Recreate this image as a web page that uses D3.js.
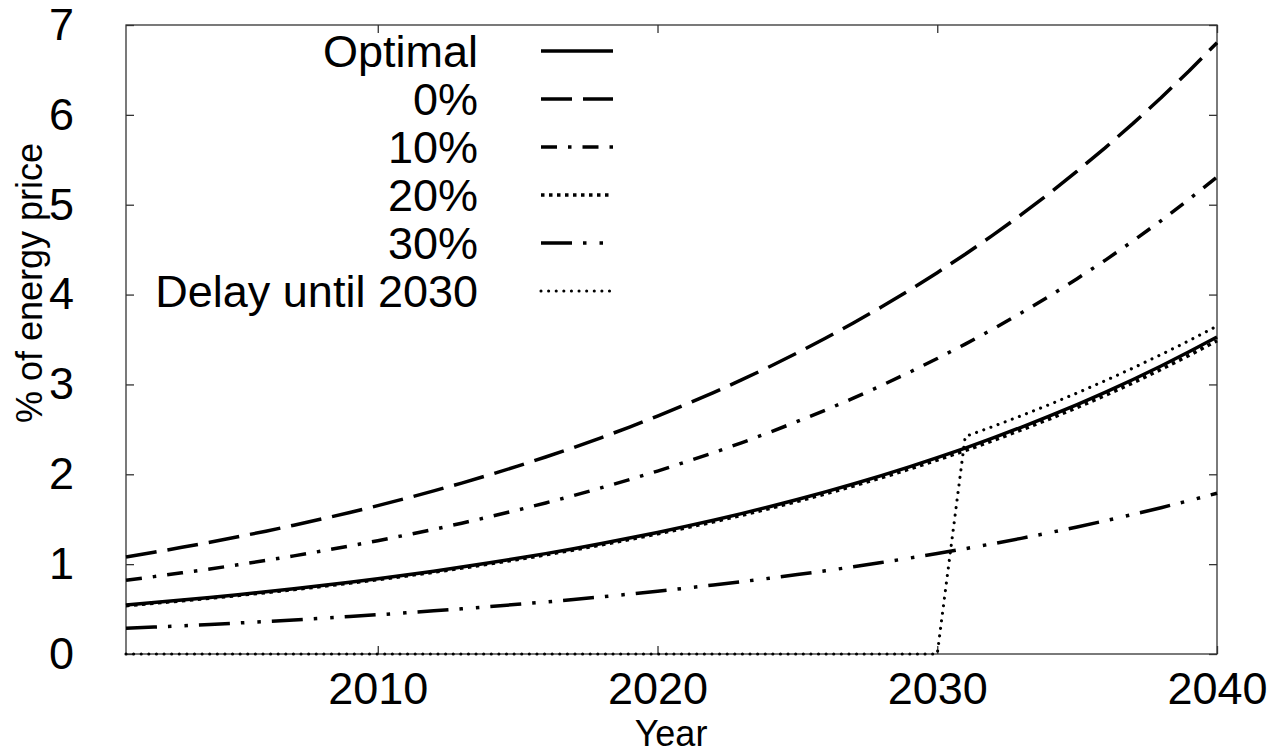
<!DOCTYPE html>
<html>
<head>
<meta charset="utf-8">
<script src="https://cdn.jsdelivr.net/npm/d3@7"></script>
<style>
  html, body { margin: 0; padding: 0; background: #fff; }
  svg { display: block; font-family: "Liberation Sans", Arial, sans-serif; }
</style>
</head>
<body>
<svg id="chart" width="1286" height="756"></svg>
<script>
// ---- data ----
const years = d3.range(2001, 2041);
const xTicks = [2010, 2020, 2030, 2040];
const yTicks = [0, 1, 2, 3, 4, 5, 6, 7];
const seriesNames = ["Optimal", "0%", "10%", "20%", "30%", "Delay until 2030"];

const optimal = [0.545,0.572,0.600,0.629,0.660,0.692,0.726,0.762,0.799,0.838,
  0.879,0.922,0.968,1.015,1.065,1.117,1.172,1.230,1.290,1.353,
  1.420,1.489,1.562,1.639,1.720,1.804,1.892,1.985,2.083,2.185,
  2.292,2.405,2.523,2.646,2.776,2.912,3.055,3.205,3.363,3.528];
const pct0 = [1.080,1.132,1.187,1.244,1.304,1.367,1.433,1.503,1.575,1.651,
  1.731,1.815,1.902,1.994,2.091,2.192,2.298,2.409,2.525,2.647,
  2.775,2.909,3.050,3.197,3.352,3.514,3.683,3.861,4.048,4.244,
  4.449,4.664,4.889,5.125,5.373,5.633,5.905,6.190,6.489,6.803];
const pct10 = [0.820,0.861,0.903,0.946,0.993,1.041,1.092,1.146,1.202,1.261,
  1.323,1.387,1.456,1.527,1.602,1.681,1.763,1.851,1.941,2.036,
  2.137,2.240,2.350,2.466,2.588,2.714,2.847,2.987,3.134,3.288,
  3.449,3.618,3.796,3.981,4.177,4.381,4.597,4.822,5.060,5.308];
const pct20 = [0.538,0.565,0.593,0.621,0.652,0.684,0.717,0.753,0.789,0.828,
  0.868,0.911,0.956,1.003,1.052,1.104,1.158,1.215,1.275,1.337,
  1.403,1.471,1.543,1.619,1.699,1.782,1.869,1.961,2.058,2.159,
  2.264,2.376,2.493,2.614,2.743,2.877,3.018,3.167,3.323,3.486];
const pct30 = [0.286,0.300,0.314,0.329,0.345,0.362,0.379,0.398,0.417,0.437,
  0.458,0.480,0.503,0.527,0.553,0.579,0.607,0.636,0.667,0.699,
  0.732,0.768,0.805,0.843,0.884,0.926,0.971,1.018,1.067,1.118,
  1.172,1.228,1.287,1.349,1.414,1.482,1.554,1.628,1.707,1.789];
const delay2030 = [0,0,0,0,0,0,0,0,0,0,
  0,0,0,0,0,0,0,0,0,0,
  0,0,0,0,0,0,0,0,0,0,
  2.420,2.533,2.651,2.775,2.905,3.041,3.183,3.332,3.487,3.650];

// ---- styles ----
const styles = [
  { dash: null, width: 3.5, cap: "butt" },
  { dash: "31 11", width: 3.5, cap: "butt" },
  { dash: "16 11 3.5 11", width: 3.5, cap: "butt" },
  { dash: "3.5 4.5", width: 3.5, cap: "butt" },
  { dash: "31 11 3.5 13 3.5 11", width: 3.5, cap: "butt" },
  { dash: "0.01 7.6", width: 3.1, cap: "round" }
];
const seriesValues = [optimal, pct0, pct10, pct20, pct30, delay2030];

// ---- layout ----
const svg = d3.select("#chart");
const L = 126, T = 25, R = 1217, B = 654;
const x = d3.scaleLinear().domain([2001, 2040]).range([L, R]);
const y = d3.scaleLinear().domain([0, 7]).range([B, T]);

const fontTick = 45;

// frame
svg.append("rect").attr("x", L).attr("y", T).attr("width", R - L).attr("height", B - T)
  .attr("fill", "none").attr("stroke", "#333").attr("stroke-width", 1.3);

// axes (gnuplot-style: inward ticks, mirrored)
const tickLen = 8;
const gx = svg.append("g").attr("transform", `translate(0,${B})`)
  .call(d3.axisBottom(x).tickValues(xTicks).tickFormat(d3.format("d")).tickSize(-tickLen).tickPadding(18));
const gxTop = svg.append("g").attr("transform", `translate(0,${T})`)
  .call(d3.axisTop(x).tickValues(xTicks).tickFormat("").tickSize(-tickLen));
const gy = svg.append("g").attr("transform", `translate(${L},0)`)
  .call(d3.axisLeft(y).tickValues(yTicks).tickFormat(d3.format("d")).tickSize(-tickLen).tickPadding(52));
const gyR = svg.append("g").attr("transform", `translate(${R},0)`)
  .call(d3.axisRight(y).tickValues(yTicks).tickFormat("").tickSize(-tickLen));

[gx, gxTop, gy, gyR].forEach(g => {
  g.select(".domain").remove();
  g.selectAll(".tick line").attr("stroke", "#333").attr("stroke-width", 1.3);
  g.selectAll("text").attr("fill", "#000").attr("font-size", fontTick)
    .attr("font-family", "'Liberation Sans', Arial, sans-serif");
});
gx.selectAll("text").attr("dy", "0.71em");

// axis titles
svg.append("text").attr("x", 671).attr("y", 746).attr("text-anchor", "middle")
  .attr("font-size", 36).text("Year");
svg.append("text").attr("transform", "translate(42,283) rotate(-90)")
  .attr("text-anchor", "middle").attr("font-size", 36).text("% of energy price");

// lines
const line = d3.line().x((d, i) => x(years[i])).y(d => y(d));
seriesValues.forEach((vals, k) => {
  const s = styles[k];
  svg.append("path").datum(vals).attr("d", line)
    .attr("fill", "none").attr("stroke", "#000")
    .attr("stroke-width", s.width)
    .attr("stroke-linecap", s.cap)
    .attr("stroke-linejoin", "round")
    .attr("stroke-dasharray", s.dash);
});

// legend
const legTextX = 478, legX1 = 541, legX2 = 613, legY0 = 51, legDY = 48;
seriesNames.forEach((name, k) => {
  const s = styles[k];
  const yy = legY0 + k * legDY;
  svg.append("text").attr("x", legTextX).attr("y", yy + 16).attr("text-anchor", "end")
    .attr("font-size", fontTick).text(name);
  svg.append("line").attr("x1", legX1).attr("x2", legX2).attr("y1", yy).attr("y2", yy)
    .attr("stroke", "#000").attr("stroke-width", s.width)
    .attr("stroke-linecap", s.cap).attr("stroke-dasharray", s.dash);
});
</script>
</body>
</html>
